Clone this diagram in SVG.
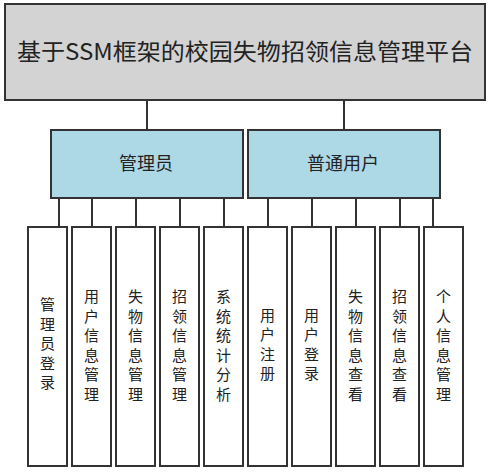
<svg xmlns="http://www.w3.org/2000/svg" width="491" height="473" viewBox="0 0 491 473">
<style>
.box{stroke:#333;stroke-width:2}
.top{fill:#d3d3d3}
.mid{fill:#add8e6}
.leaf{fill:#fff}
.t{font-family:"Microsoft YaHei","Noto Sans CJK SC","DejaVu Sans",sans-serif;fill:#222;text-anchor:middle}
.tt{font-size:23px}
.mt{font-size:18px}
.lt{font-size:15px}
.conn line{stroke:#333;stroke-width:2}
</style>
<rect width="491" height="473" fill="#fff"/>
<g class="conn">
<line x1="147" y1="100" x2="147" y2="130"/>
<line x1="344" y1="100" x2="344" y2="130"/>
<line x1="59" y1="198" x2="59" y2="227"/>
<line x1="92" y1="198" x2="92" y2="227"/>
<line x1="136" y1="198" x2="136" y2="227"/>
<line x1="180" y1="198" x2="180" y2="227"/>
<line x1="224" y1="198" x2="224" y2="227"/>
<line x1="268" y1="198" x2="268" y2="227"/>
<line x1="312" y1="198" x2="312" y2="227"/>
<line x1="356" y1="198" x2="356" y2="227"/>
<line x1="400" y1="198" x2="400" y2="227"/>
<line x1="433" y1="198" x2="433" y2="227"/>
</g>
<g id="root">
<rect class="box top" x="5" y="4" width="480" height="96"/>
<text class="t tt" x="245" y="60" textLength="456" lengthAdjust="spacingAndGlyphs">基于SSM框架的校园失物招领信息管理平台</text>
</g>
<g id="admin">
<rect class="box mid" x="51" y="130" width="192" height="68"/>
<text class="t mt" x="146" y="170">管理员</text>
</g>
<g id="user">
<rect class="box mid" x="248" y="130" width="192" height="68"/>
<text class="t mt" x="343" y="170">普通用户</text>
</g>
<g id="n1">
<rect class="box leaf" x="28" y="227" width="39" height="239"/>
<text class="t lt" x="47.5"><tspan x="47.5" y="310">管</tspan><tspan x="47.5" y="329.5">理</tspan><tspan x="47.5" y="349">员</tspan><tspan x="47.5" y="368.5">登</tspan><tspan x="47.5" y="388">录</tspan></text>
</g>
<g id="n2">
<rect class="box leaf" x="72" y="227" width="39" height="239"/>
<text class="t lt"><tspan x="91.5" y="302">用</tspan><tspan x="91.5" y="321.5">户</tspan><tspan x="91.5" y="341">信</tspan><tspan x="91.5" y="360.5">息</tspan><tspan x="91.5" y="380">管</tspan><tspan x="91.5" y="399.5">理</tspan></text>
</g>
<g id="n3">
<rect class="box leaf" x="116" y="227" width="39" height="239"/>
<text class="t lt"><tspan x="135.5" y="302">失</tspan><tspan x="135.5" y="321.5">物</tspan><tspan x="135.5" y="341">信</tspan><tspan x="135.5" y="360.5">息</tspan><tspan x="135.5" y="380">管</tspan><tspan x="135.5" y="399.5">理</tspan></text>
</g>
<g id="n4">
<rect class="box leaf" x="160" y="227" width="39" height="239"/>
<text class="t lt"><tspan x="179.5" y="302">招</tspan><tspan x="179.5" y="321.5">领</tspan><tspan x="179.5" y="341">信</tspan><tspan x="179.5" y="360.5">息</tspan><tspan x="179.5" y="380">管</tspan><tspan x="179.5" y="399.5">理</tspan></text>
</g>
<g id="n5">
<rect class="box leaf" x="204" y="227" width="39" height="239"/>
<text class="t lt"><tspan x="223.5" y="302">系</tspan><tspan x="223.5" y="321.5">统</tspan><tspan x="223.5" y="341">统</tspan><tspan x="223.5" y="360.5">计</tspan><tspan x="223.5" y="380">分</tspan><tspan x="223.5" y="399.5">析</tspan></text>
</g>
<g id="n6">
<rect class="box leaf" x="248" y="227" width="39" height="239"/>
<text class="t lt"><tspan x="267.5" y="320.5">用</tspan><tspan x="267.5" y="340">户</tspan><tspan x="267.5" y="359.5">注</tspan><tspan x="267.5" y="379">册</tspan></text>
</g>
<g id="n7">
<rect class="box leaf" x="292" y="227" width="39" height="239"/>
<text class="t lt"><tspan x="311.5" y="320.5">用</tspan><tspan x="311.5" y="340">户</tspan><tspan x="311.5" y="359.5">登</tspan><tspan x="311.5" y="379">录</tspan></text>
</g>
<g id="n8">
<rect class="box leaf" x="336" y="227" width="39" height="239"/>
<text class="t lt"><tspan x="355.5" y="302">失</tspan><tspan x="355.5" y="321.5">物</tspan><tspan x="355.5" y="341">信</tspan><tspan x="355.5" y="360.5">息</tspan><tspan x="355.5" y="380">查</tspan><tspan x="355.5" y="399.5">看</tspan></text>
</g>
<g id="n9">
<rect class="box leaf" x="380" y="227" width="39" height="239"/>
<text class="t lt"><tspan x="399.5" y="302">招</tspan><tspan x="399.5" y="321.5">领</tspan><tspan x="399.5" y="341">信</tspan><tspan x="399.5" y="360.5">息</tspan><tspan x="399.5" y="380">查</tspan><tspan x="399.5" y="399.5">看</tspan></text>
</g>
<g id="n10">
<rect class="box leaf" x="424" y="227" width="39" height="239"/>
<text class="t lt"><tspan x="443.5" y="302">个</tspan><tspan x="443.5" y="321.5">人</tspan><tspan x="443.5" y="341">信</tspan><tspan x="443.5" y="360.5">息</tspan><tspan x="443.5" y="380">管</tspan><tspan x="443.5" y="399.5">理</tspan></text>
</g>
</svg>
